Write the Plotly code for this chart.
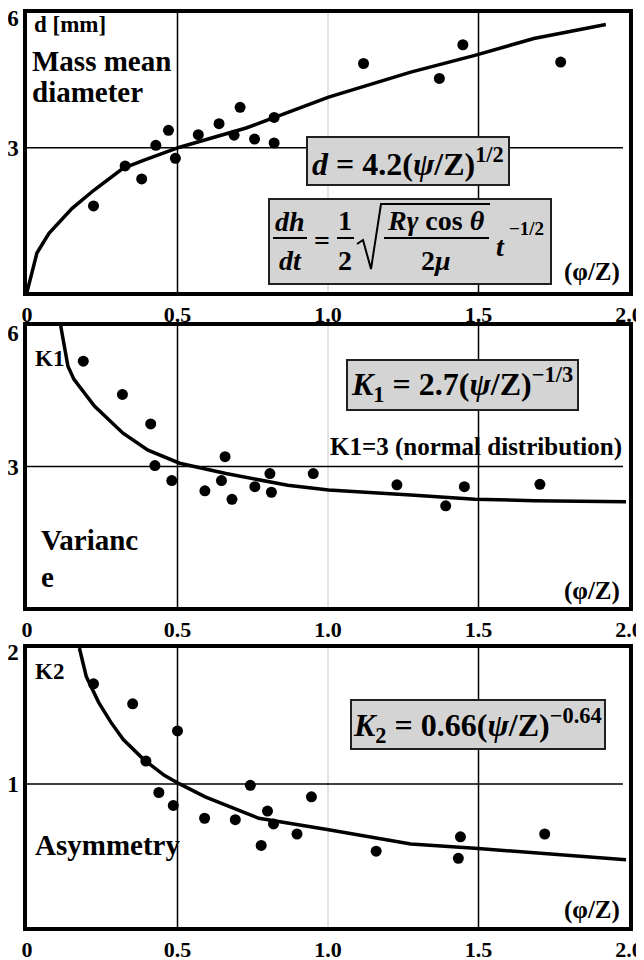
import plotly.graph_objects as go

SERIF = "Liberation Serif"
# the page body adds an 8 px margin, so the figure is drawn 8 px smaller
W, H = 636, 952
OFF = 8

# x axis shared by the three panels
x_ticks = [0, 0.5, 1.0, 1.5, 2.0]
x_ticktext = ["0", "0.5", "1.0", "1.5", "2.0"]

# 1. mass mean diameter d [mm]
d_x = [0.221, 0.326, 0.381, 0.428, 0.470, 0.493, 0.569, 0.638, 0.688, 0.708,
       0.756, 0.821, 0.821, 1.118, 1.370, 1.448, 1.773]
d_y = [1.79, 2.62, 2.35, 3.05, 3.36, 2.78, 3.27, 3.50, 3.26, 3.84,
       3.18, 3.63, 3.10, 4.75, 4.44, 5.14, 4.78]
d_fit_x = [0.0, 0.033, 0.073, 0.150, 0.223, 0.319, 0.389, 0.507, 0.728,
           1.002, 1.275, 1.488, 1.684, 1.923]
d_fit_y = [0.0, 0.81, 1.22, 1.74, 2.12, 2.57, 2.74, 3.01, 3.41,
           4.05, 4.57, 4.92, 5.27, 5.56]

# 2. variance K1
k1_x = [0.187, 0.317, 0.411, 0.425, 0.481, 0.591, 0.646, 0.658, 0.681, 0.757,
        0.807, 0.812, 0.951, 1.229, 1.391, 1.453, 1.704]
k1_y = [5.25, 4.54, 3.91, 3.02, 2.70, 2.48, 2.70, 3.21, 2.30, 2.57,
        2.85, 2.45, 2.85, 2.61, 2.16, 2.57, 2.62]
k1_fit_x = [0.112, 0.136, 0.156, 0.224, 0.319, 0.402, 0.507, 0.661, 0.866,
            1.002, 1.275, 1.488, 1.684, 1.990]
k1_fit_y = [6.0, 5.14, 4.86, 4.29, 3.71, 3.35, 3.07, 2.85, 2.60,
            2.50, 2.39, 2.30, 2.27, 2.25]

# 3. asymmetry K2
k2_x = [0.221, 0.351, 0.500, 0.395, 0.438, 0.486, 0.590, 0.692, 0.742, 0.778,
        0.799, 0.819, 0.897, 0.945, 1.160, 1.433, 1.440, 1.720]
k2_y = [1.70, 1.56, 1.37, 1.16, 0.94, 0.85, 0.76, 0.75, 0.99, 0.57,
        0.81, 0.72, 0.65, 0.91, 0.53, 0.48, 0.63, 0.65]
k2_fit_x = [0.174, 0.197, 0.238, 0.279, 0.320, 0.388, 0.456, 0.507, 0.592,
            0.770, 1.002, 1.275, 1.488, 1.684, 1.990]
k2_fit_y = [1.95, 1.75, 1.57, 1.43, 1.31, 1.17, 1.06, 1.00, 0.91,
            0.76, 0.68, 0.58, 0.55, 0.52, 0.47]

# y axes: range, tick positions, tick labels, reference line
y_ranges = [[0, 5.8], [0, 6], [0, 1.95]]
y_ticks = [[3, 5.7], [3, 5.85], [1, 1.92]]
y_ticktext = [["3", "6"], ["3", "6"], ["1", "2"]]
y_ref = [3, 3, 1]


def px(x):
    return (x - OFF) / W


def py(y):
    return 1 - (y - OFF) / H


# panel frames in screen pixels (top, bottom)
frames = [(13, 292), (326, 607), (648, 927)]
x_dom = [px(27), px(629)]

fig = go.Figure()

series = [(d_x, d_y, d_fit_x, d_fit_y),
          (k1_x, k1_y, k1_fit_x, k1_fit_y),
          (k2_x, k2_y, k2_fit_x, k2_fit_y)]

for i, (sx, sy, fx, fy) in enumerate(series):
    n = "" if i == 0 else str(i + 1)
    fig.add_trace(go.Scatter(x=fx, y=fy, mode="lines", xaxis="x" + n, yaxis="y" + n,
                             line=dict(color="black", width=3.5), showlegend=False))
    fig.add_trace(go.Scatter(x=sx, y=sy, mode="markers", xaxis="x" + n, yaxis="y" + n,
                             marker=dict(color="black", size=11), showlegend=False))

    top, bot = frames[i]
    fig.layout["xaxis" + n] = dict(
        domain=x_dom, range=[0, 2], anchor="y" + n, automargin=False,
        tickvals=x_ticks, ticktext=x_ticktext, ticks="", ticklabelstandoff=0,
        ticklabeloverflow="allow",
        tickfont=dict(family=SERIF, size=22, color="black", weight="bold"),
        showline=True, mirror=True, linewidth=3.5, linecolor="black",
        showgrid=False, zeroline=False, fixedrange=True)
    fig.layout["yaxis" + n] = dict(
        domain=[py(bot), py(top)], range=y_ranges[i], anchor="x" + n, automargin=False,
        tickvals=y_ticks[i], ticktext=y_ticktext[i], ticks="", ticklabelstandoff=0,
        ticklabeloverflow="allow",
        tickfont=dict(family=SERIF, size=23, color="black", weight="bold"),
        showline=True, mirror=True, linewidth=3.5, linecolor="black",
        showgrid=False, zeroline=False, fixedrange=True)

    xr, yr = "x" + n, "y" + n
    for gx, col, wd in [(0.5, "black", 1.5), (1.0, "#c8c8c8", 1), (1.5, "black", 1.5)]:
        fig.add_shape(type="line", xref=xr, yref=yr + " domain", x0=gx, x1=gx, y0=0, y1=1,
                      line=dict(color=col, width=wd), layer="below")
    fig.add_shape(type="line", xref=xr + " domain", yref=yr, x0=0, x1=0.99,
                  y0=y_ref[i], y1=y_ref[i], line=dict(color="black", width=1.5), layer="below")


def label(text, x, y, size, xanchor="center", yanchor="middle"):
    fig.add_annotation(text=text, x=px(x), y=py(y), xref="paper", yref="paper",
                       showarrow=False, xanchor=xanchor, yanchor=yanchor,
                       font=dict(family=SERIF, size=size, color="black"))


def box(x0, y0, x1, y1):
    fig.add_shape(type="rect", xref="paper", yref="paper",
                  x0=px(x0), x1=px(x1), y0=py(y1), y1=py(y0),
                  fillcolor="#d4d4d4", line=dict(color="#202020", width=2), layer="above")


def bar(x0, x1, y):
    fig.add_shape(type="line", xref="paper", yref="paper",
                  x0=px(x0), x1=px(x1), y0=py(y), y1=py(y),
                  line=dict(color="black", width=2), layer="above")


# panel 1 texts
label("<b>d [mm]</b>", 32, 24, 23, xanchor="left")
label("<b>Mass mean</b>", 30, 61, 29, xanchor="left")
label("<b>diameter</b>", 30, 92, 29, xanchor="left")
box(307, 137, 509, 185)
label("<b><i>d</i> = 4.2(<i>ψ</i>/Z)<sup>1/2</sup></b>", 408, 162, 32)

box(269, 199, 551, 284)
label("<b><i>dh</i></b>", 290, 222, 28)
bar(273, 307, 238)
label("<b><i>dt</i></b>", 290, 261, 28)
label("<b>=</b>", 322, 240, 28)
label("<b>1</b>", 345, 221, 28)
bar(337, 354, 238)
label("<b>2</b>", 345, 261, 28)
fig.add_shape(type="path", xref="paper", yref="paper", layer="above",
              path="M %f,%f L %f,%f L %f,%f L %f,%f L %f,%f" % (
                  px(357), py(244), px(363), py(240), px(371), py(269),
                  px(381), py(204), px(490), py(204)),
              line=dict(color="black", width=2))
label("<b><i>Rγ</i> cos <i>θ</i></b>", 436, 221, 28)
bar(384, 489, 238)
label("<b>2<i>μ</i></b>", 436, 261, 28)
label("<b><i>t</i></b>", 500, 246, 28)
label("<b>−1/2</b>", 526, 228, 19)
label("<b>(φ/Z)</b>", 592, 272, 25)

# panel 2 texts
label("<b>K1</b>", 33, 358, 23, xanchor="left")
box(347, 360, 578, 410)
label("<b><i>K</i><sub>1</sub> = 2.7(<i>ψ</i>/Z)<sup>−1/3</sup></b>", 462, 385, 32)
label("<b>K1=3 (normal distribution)</b>", 624, 447, 25, xanchor="right")
label("<b>Varianc</b>", 39, 540, 29, xanchor="left")
label("<b>e</b>", 39, 577, 29, xanchor="left")
label("<b>(φ/Z)</b>", 592, 591, 25)

# panel 3 texts
label("<b>K2</b>", 33, 671, 23, xanchor="left")
box(351, 700, 605, 749)
label("<b><i>K</i><sub>2</sub> = 0.66(<i>ψ</i>/Z)<sup>−0.64</sup></b>", 478, 725, 32)
label("<b>Asymmetry</b>", 33, 845, 29, xanchor="left")
label("<b>(φ/Z)</b>", 592, 910, 25)

fig.update_layout(width=W, height=H, margin=dict(l=0, r=0, t=0, b=0),
                  paper_bgcolor="white", plot_bgcolor="white",
                  font=dict(family=SERIF, color="black"))

fig.write_html("out.html")
